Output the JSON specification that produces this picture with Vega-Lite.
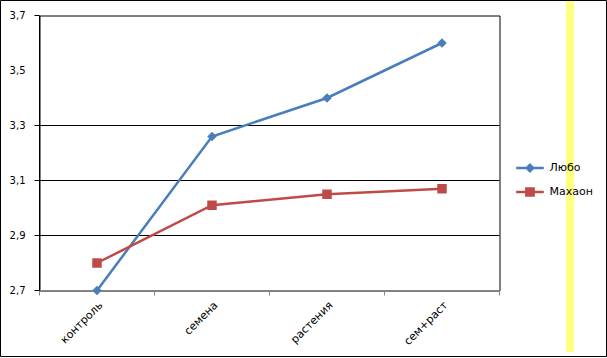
{
  "$schema": "https://vega.github.io/schema/vega-lite/v6.json",
  "width": 460,
  "height": 275,
  "autosize": {"type": "none"},
  "padding": {"left": 39.5, "top": 15.5, "right": 107.5, "bottom": 67.5},
  "background": "white",
  "config": {
    "view": {"stroke": "black", "strokeWidth": 1},
    "axis": {"translate": 0}
  },
  "data": {
    "values": [
      {"category": "контроль", "series": "Любо", "value": 2.70},
      {"category": "семена", "series": "Любо", "value": 3.26},
      {"category": "растения", "series": "Любо", "value": 3.40},
      {"category": "сем+раст", "series": "Любо", "value": 3.60},
      {"category": "контроль", "series": "Махаон", "value": 2.80},
      {"category": "семена", "series": "Махаон", "value": 3.01},
      {"category": "растения", "series": "Махаон", "value": 3.05},
      {"category": "сем+раст", "series": "Махаон", "value": 3.07}
    ]
  },
  "encoding": {
    "x": {
      "field": "category",
      "type": "nominal",
      "sort": ["контроль", "семена", "растения", "сем+раст"],
      "scale": {"paddingInner": 0, "paddingOuter": 0},
      "axis": {
        "title": null,
        "domainColor": "#868686",
        "tickColor": "#868686",
        "tickBand": "extent",
        "tickSize": 5,
        "labelAngle": -45,
        "labelFont": "DejaVu Sans",
        "labelFontSize": 11,
        "labelColor": "black",
        "labelPadding": 4,
        "grid": false
      }
    },
    "y": {
      "field": "value",
      "type": "quantitative",
      "scale": {"domain": [2.7, 3.7], "nice": false, "zero": false},
      "axis": {
        "title": null,
        "values": [2.7, 2.9, 3.1, 3.3, 3.5, 3.7],
        "labelExpr": "replace(format(datum.value, '.1f'), '.', ',')",
        "domainColor": "black",
        "tickColor": "black",
        "tickSize": 5,
        "tickOpacity": {"condition": {"test": "abs(datum.value - 3.5) < 0.01", "value": 0}, "value": 1},
        "grid": true,
        "gridColor": "black",
        "gridOpacity": {"condition": {"test": "datum.value > 2.8 && datum.value < 3.4", "value": 1}, "value": 0},
        "labelPadding": 9,
        "labelFont": "DejaVu Sans",
        "labelFontSize": 10,
        "labelColor": "black"
      }
    },
    "color": {
      "field": "series",
      "type": "nominal",
      "sort": ["Любо", "Махаон"],
      "scale": {"range": ["#4A7EBB", "#BE4B48"]},
      "legend": {
        "orient": "none",
        "legendX": 477,
        "legendY": 139,
        "zindex": 3,
        "title": null,
        "symbolSize": 576,
        "symbolStrokeWidth": 2.5,
        "labelFont": "DejaVu Sans",
        "labelFontSize": 11,
        "labelColor": "black",
        "labelOffset": 6,
        "rowPadding": 2,
        "encode": {
          "symbols": {
            "update": {
              "shape": {"signal": "datum.value === 'Любо' ? 'M-1.15,0H1.15M0,-0.27L0.27,0L0,0.27L-0.27,0Z' : 'M-1.15,0H1.15M-0.3,-0.3H0.3V0.3H-0.3Z'"},
              "fill": {"scale": "color", "field": "value"},
              "stroke": {"scale": "color", "field": "value"},
              "strokeWidth": {"value": 2.5}
            }
          }
        }
      }
    }
  },
  "layer": [
    {"mark": {"type": "line", "strokeWidth": 2.5}},
    {
      "mark": {"type": "point", "filled": true, "opacity": 1, "size": 90},
      "encoding": {
        "shape": {
          "field": "series",
          "type": "nominal",
          "sort": ["Любо", "Махаон"],
          "scale": {"range": ["diamond", "square"]},
          "legend": null
        }
      }
    },
    {
      "mark": {"type": "point", "opacity": 0},
      "encoding": {
        "fill": {
          "field": "value",
          "type": "quantitative",
          "scale": {"domain": [0, 1], "range": ["#ffff80", "#ffff80"]},
          "legend": {
            "orient": "none",
            "legendX": 526.5,
            "legendY": -15.5,
            "zindex": 1,
            "direction": "vertical",
            "gradientLength": 352,
            "gradientThickness": 8,
            "gradientStrokeWidth": 0,
            "title": null,
            "labelExpr": "''",
            "padding": 0
          }
        },
        "stroke": {
          "field": "value",
          "type": "quantitative",
          "scale": {"domain": [0, 2], "range": ["rgba(255,255,255,0)", "rgba(255,255,255,0)"]},
          "legend": {
            "orient": "none",
            "legendX": -39,
            "legendY": -15,
            "zindex": 1,
            "direction": "vertical",
            "gradientLength": 356,
            "gradientThickness": 606,
            "gradientStrokeColor": "black",
            "gradientStrokeWidth": 1,
            "title": null,
            "labelExpr": "''",
            "padding": 0
          }
        }
      }
    }
  ]
}
